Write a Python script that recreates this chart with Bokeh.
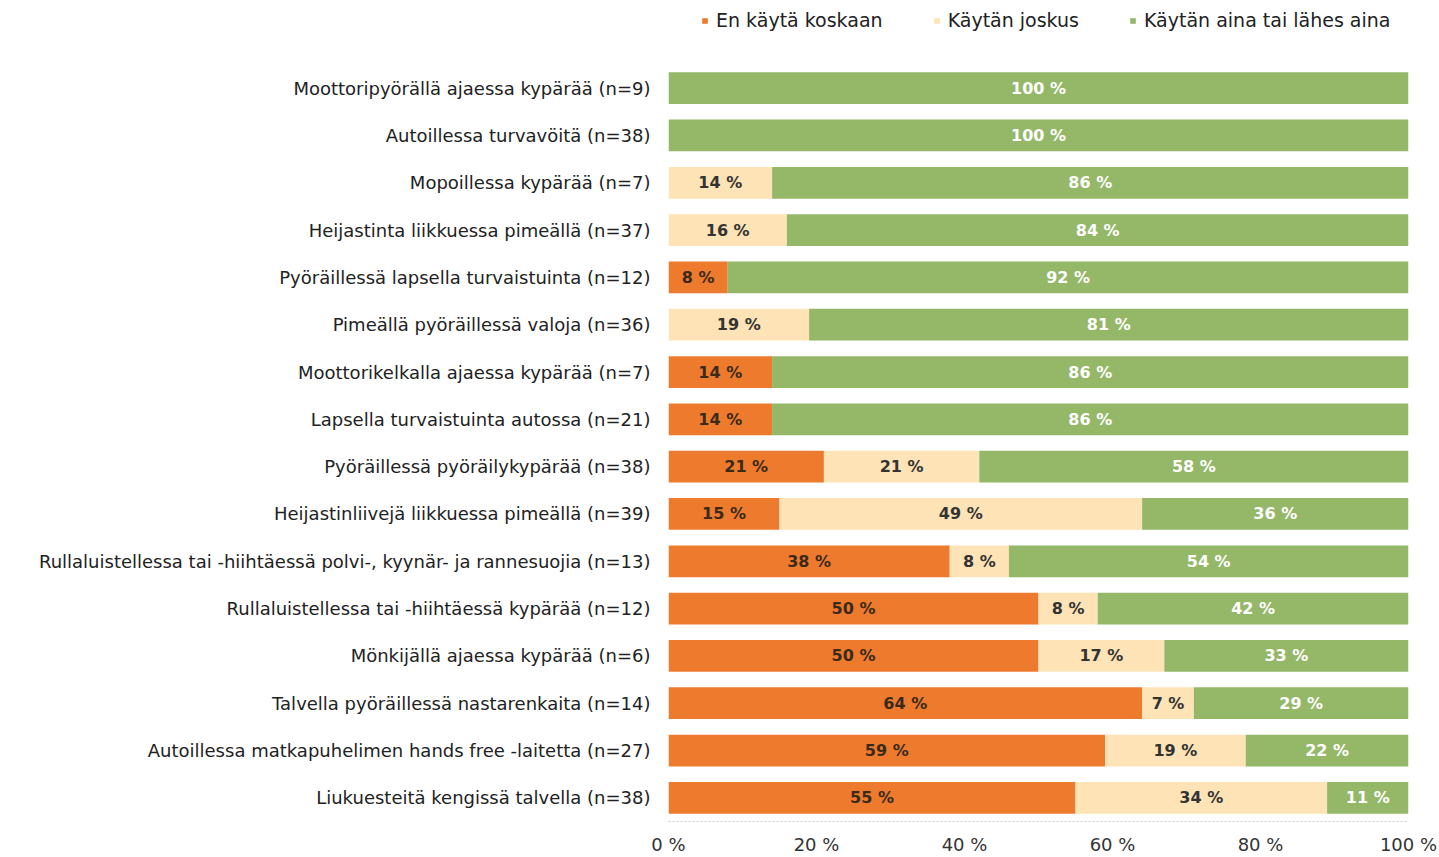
from bokeh.plotting import figure
from bokeh.layouts import column
from bokeh.models import ColumnDataSource, Legend, LegendItem, FactorRange, FixedTicker, PrintfTickFormatter
from bokeh.embed import file_html
from bokeh.resources import INLINE
from bokeh.core.properties import value

categories = [
    "Moottoripyörällä ajaessa kypärää (n=9)",
    "Autoillessa turvavöitä (n=38)",
    "Mopoillessa kypärää (n=7)",
    "Heijastinta liikkuessa pimeällä (n=37)",
    "Pyöräillessä lapsella turvaistuinta (n=12)",
    "Pimeällä pyöräillessä valoja (n=36)",
    "Moottorikelkalla ajaessa kypärää (n=7)",
    "Lapsella turvaistuinta autossa (n=21)",
    "Pyöräillessä pyöräilykypärää (n=38)",
    "Heijastinliivejä liikkuessa pimeällä (n=39)",
    "Rullaluistellessa tai -hiihtäessä polvi-, kyynär- ja rannesuojia (n=13)",
    "Rullaluistellessa tai -hiihtäessä kypärää (n=12)",
    "Mönkijällä ajaessa kypärää (n=6)",
    "Talvella pyöräillessä nastarenkaita (n=14)",
    "Autoillessa matkapuhelimen hands free -laitetta (n=27)",
    "Liukuesteitä kengissä talvella (n=38)",
]
never = [0, 0, 0, 0, 8, 0, 14, 14, 21, 15, 38, 50, 50, 64, 59, 55]
sometimes = [0, 0, 14, 16, 0, 19, 0, 0, 21, 49, 8, 8, 17, 7, 19, 34]
always = [100, 100, 86, 84, 92, 81, 86, 86, 58, 36, 54, 42, 33, 29, 22, 11]
series_names = ["En käytä koskaan", "Käytän joskus", "Käytän aina tai lähes aina"]
x_ticks = [0, 20, 40, 60, 80, 100]

colors = ["#EE7A2E", "#FDE3B5", "#94B868"]
label_colors = ["#3a2a1a", "#333333", "#ffffff"]
FONT = "DejaVu Sans"

src = ColumnDataSource(dict(cat=categories, never=never, sometimes=sometimes, always=always))

# ---- legend strip (top) ----
lg = figure(width=1439, height=64, output_backend="svg", toolbar_location=None,
            x_range=(0, 1), y_range=(0, 1), x_axis_location=None, y_axis_location=None,
            min_border_left=0, min_border_right=0, min_border_top=0, min_border_bottom=0)
lg.xgrid.grid_line_color = None
lg.ygrid.grid_line_color = None
lg.outline_line_color = None
# zero-size placeholder bars: they only provide the legend swatches
dummy = ColumnDataSource(dict(y=[0], right=[0]))
lg_rs = [lg.hbar(y="y", right="right", height=0, source=dummy, fill_color=c, line_color=None)
         for c in colors]
legend = Legend(items=[LegendItem(label=series_names[k], renderers=[lg_rs[k]]) for k in range(3)],
                orientation="horizontal", location=(33, 33),
                label_text_font=FONT, label_text_font_size="19px", label_text_color="#222222",
                glyph_width=7, glyph_height=7, label_standoff=8, spacing=50,
                padding=4, margin=0, border_line_color=None, background_fill_alpha=0)
lg.add_layout(legend, "center")

# ---- main chart ----
p = figure(width=1439, height=793, output_backend="svg", toolbar_location=None,
           y_range=FactorRange(*list(reversed(categories)), range_padding=0),
           x_range=(0, 100),
           min_border_left=668, min_border_right=31, min_border_top=0, min_border_bottom=20)

rs = p.hbar_stack(["never", "sometimes", "always"], y="cat", height=0.67, color=colors,
                  line_color=None, source=src)

# value labels
series = [never, sometimes, always]
starts = [0] * len(categories)
for k, vals in enumerate(series):
    xs, ys, txt = [], [], []
    for i, v in enumerate(vals):
        if v > 0:
            xs.append(starts[i] + v / 2)
            ys.append(categories[i])
            txt.append(f"{v} %")
        starts[i] += v
    p.text(x=xs, y=ys, text=txt, text_align="center", text_baseline="middle",
           text_font=value(FONT), text_font_size="16px", text_font_style="bold",
           text_color=label_colors[k])

p.xaxis.ticker = FixedTicker(ticks=x_ticks)
p.xaxis.formatter = PrintfTickFormatter(format="%d %%")
p.xaxis.major_tick_line_color = None
p.xaxis.minor_tick_line_color = None
p.xaxis.major_tick_out = 0
p.xaxis.minor_tick_out = 0
p.xaxis.axis_line_color = "#cccccc"
p.xaxis.axis_line_dash = "2 2"
p.xaxis.major_label_standoff = 12
p.xaxis.major_label_text_font = FONT
p.xaxis.major_label_text_font_size = "18px"
p.xaxis.major_label_text_color = "#333333"

p.yaxis.axis_line_color = None
p.yaxis.major_tick_line_color = None
p.yaxis.minor_tick_line_color = None
p.yaxis.major_tick_out = 0
p.yaxis.minor_tick_out = 0
p.yaxis.major_label_standoff = 18
p.yaxis.major_label_text_font = FONT
p.yaxis.major_label_text_font_size = "18px"
p.yaxis.major_label_text_color = "#222222"

p.xgrid.grid_line_color = None
p.ygrid.grid_line_color = None
p.outline_line_color = None

layout = column(lg, p, spacing=0)
open("out.html", "w").write(file_html(layout, INLINE))
